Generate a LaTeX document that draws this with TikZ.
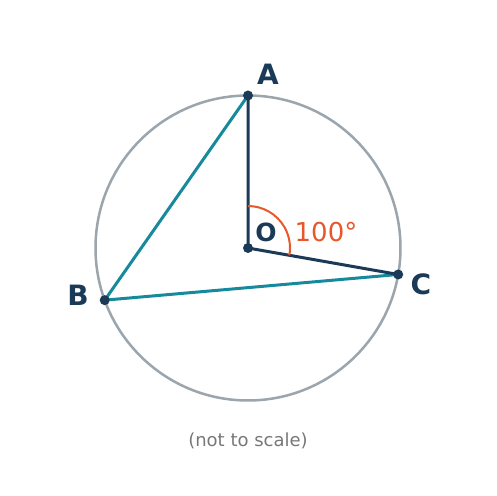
\documentclass[tikz,border=0pt]{standalone}
\usepackage{fontspec}
\setmainfont{DejaVu Sans}
\usetikzlibrary{arrows,calc}

\definecolor{navy}{HTML}{1B3A57}
\definecolor{teal}{HTML}{168A9C}
\definecolor{rim}{HTML}{9BA5AD}
\definecolor{angle}{HTML}{E8572B}
\definecolor{note}{HTML}{777777}

\begin{document}
\begin{tikzpicture}[x=1pt,y=1pt,
    dot/.style={circle,fill=navy,inner sep=0pt,minimum size=10pt},
    pt/.style={text=navy,font=\fontsize{28}{28}\selectfont\bfseries}]
            \useasboundingbox (0,0) rectangle (496,496);
            \coordinate (O) at (248,248);
            \coordinate (A) at ($(O)+(90:152.5)$);
            \coordinate (B) at ($(O)+(200:152.5)$);
            \coordinate (C) at ($(O)+(-10:152.5)$);

            \draw[rim,line width=2.5pt] (O) circle[radius=152.5];
            \draw[teal,line width=3pt,line join=round] (A) -- (B) -- (C);
            \draw[navy,line width=3pt,line join=round] (A) -- (O) -- (C);
            \draw[angle,line width=2pt] (O) ++(90:42) arc[start angle=90,end angle=-10,radius=42];

            \node[dot] (nA) at (A) {};
            \node[dot] (nB) at (B) {};
            \node[dot] (nC) at (C) {};
            \node[dot] (nO) at (O) {};

            \node[pt] (lA) at (268,422) {A};
            \node[pt] (lB) at (78,201) {B};
            \node[pt] (lC) at (421,212) {C};
            \node[pt,font=\fontsize{25}{25}\selectfont\bfseries] (lO) at (266,264) {O};
            \node[text=angle,font=\fontsize{26}{26}\selectfont] (lang) at (326,264) {100°};
            \node[text=note,font=\fontsize{18}{18}\selectfont] (lnote) at (248,55) {(not to scale)};
        \end{tikzpicture}
\end{document}
